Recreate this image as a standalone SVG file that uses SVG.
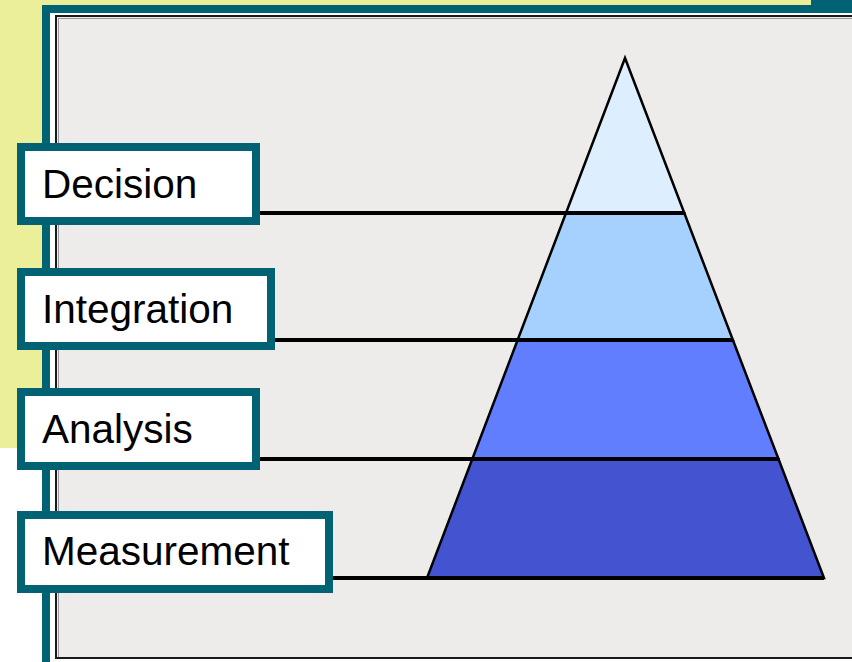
<svg xmlns="http://www.w3.org/2000/svg" width="852" height="662" viewBox="0 0 852 662">
<style>
.box{fill:#ffffff;stroke:#006272;stroke-width:8}
.lbl{font-family:"Liberation Sans",Arial,sans-serif;font-size:40.5px;fill:#000000}
.band{stroke:#000000;stroke-width:2.5;stroke-linejoin:miter}
.conn{stroke:#000000;stroke-width:4;fill:none}
</style>
<rect x="0" y="0" width="852" height="662" fill="#ffffff"/>
<rect x="0" y="0" width="811" height="448" fill="#ECEF9A"/>
<rect x="811" y="0" width="41" height="14" fill="#006272"/>
<g id="frame">
<rect x="46" y="9" width="820" height="670" fill="#ffffff" stroke="#006272" stroke-width="8"/>
<rect x="56" y="16" width="810" height="642" fill="#EDECEA" stroke="#1a1a1a" stroke-width="2"/>
<line x1="58" y1="18.5" x2="852" y2="18.5" stroke="#9a9a9a" stroke-width="1"/>
<line x1="58.5" y1="18" x2="58.5" y2="657" stroke="#9a9a9a" stroke-width="1"/>
</g>
<g id="pyramid">
<polygon id="band-decision" class="band" fill="#DDEEFF" points="625,58 684.3,213 566,213"/>
<polygon id="band-integration" class="band" fill="#A6D1FF" points="566,213 684.3,213 732.9,340 517.6,340"/>
<polygon id="band-analysis" class="band" fill="#617EFF" points="517.6,340 732.9,340 778.5,459 472.3,459"/>
<polygon id="band-measurement" class="band" fill="#4453D0" points="472.3,459 778.5,459 824,578 427,578"/>
</g>
<g id="connectors">
<line class="conn" x1="260" y1="213" x2="684.3" y2="213"/>
<line class="conn" x1="275" y1="340" x2="732.9" y2="340"/>
<line class="conn" x1="260" y1="459" x2="778.5" y2="459"/>
<line class="conn" x1="333" y1="578" x2="824" y2="578"/>
</g>
<g id="node-decision">
<rect class="box" x="21" y="147" width="235" height="74"/>
<text class="lbl" x="42" y="198">Decision</text>
</g>
<g id="node-integration">
<rect class="box" x="21" y="272" width="250" height="74"/>
<text class="lbl" x="42" y="323">Integration</text>
</g>
<g id="node-analysis">
<rect class="box" x="21" y="392" width="235" height="74"/>
<text class="lbl" x="42" y="443">Analysis</text>
</g>
<g id="node-measurement">
<rect class="box" x="21" y="515" width="308" height="74"/>
<text class="lbl" x="42" y="565">Measurement</text>
</g>
</svg>
